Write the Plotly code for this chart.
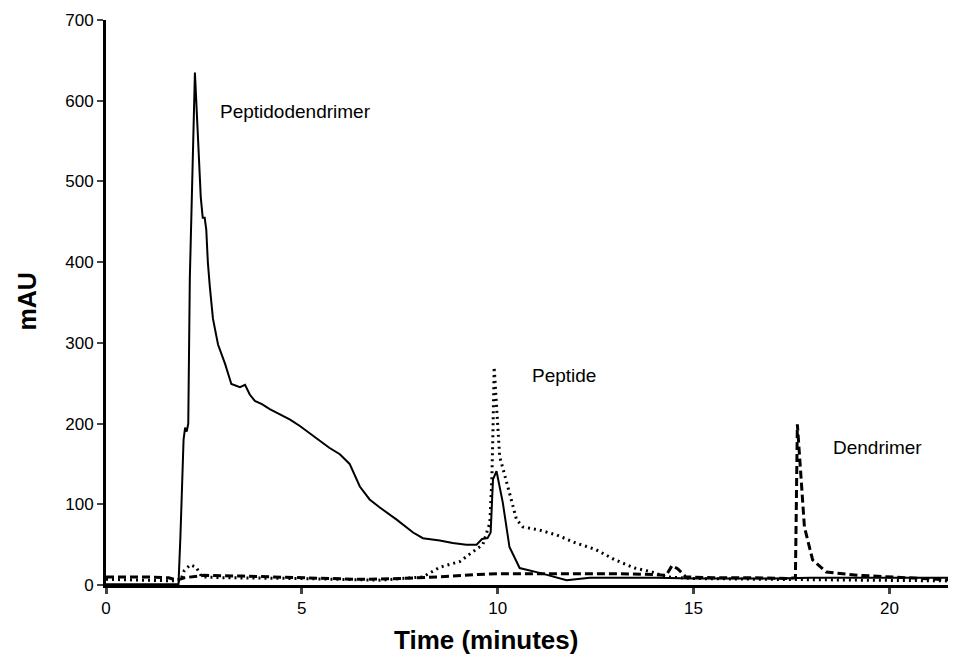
import plotly.graph_objects as go

# Peptidodendrimer (solid)
pd_x = [0, 1.0, 1.85, 1.9, 1.98, 2.02, 2.06, 2.1, 2.14, 2.27, 2.35, 2.42, 2.47, 2.52, 2.56, 2.6, 2.65, 2.73, 2.86,
        3.04, 3.2, 3.42, 3.55, 3.67, 3.8, 3.98, 4.18, 4.44, 4.7, 4.95, 5.2, 5.46, 5.7, 5.97, 6.22, 6.48, 6.73,
        6.99, 7.42, 7.84, 8.09, 8.52, 8.85, 9.2, 9.46, 9.6, 9.74, 9.82, 9.88, 9.97, 10.13, 10.3, 10.56, 11.07,
        11.76, 12.35, 13.2, 14.05, 15.0, 16.0, 17.0, 18.0, 19.0, 20.0, 21.7]
pd_y = [1, 1, 1, 60, 180, 195, 190, 200, 380, 635, 560, 480, 455, 455, 440, 400, 370, 330, 298,
        274, 249, 245, 248, 236, 228, 224, 218, 211, 205, 197, 188, 178, 170, 162, 150, 122, 106,
        96, 81, 65, 58, 55, 52, 50, 50, 57, 58, 65, 131, 141, 102, 47, 21, 15,
        6, 9, 9, 9, 8, 8, 8, 9, 9, 9, 9]

# Peptide (dotted)
pep_x = [0, 1.0, 1.9, 2.0, 2.15, 2.3, 2.45, 3.0, 5.0, 7.0, 8.09, 8.52, 9.03, 9.36, 9.62, 9.8, 9.85, 9.88,
         9.91, 9.96, 10.05, 10.23, 10.48, 10.64, 11.07, 11.5, 12.0, 12.5, 13.0, 13.5, 13.95, 14.3, 15.0,
         17.0, 19.0, 21.7]
pep_y = [7, 6, 5, 18, 25, 22, 10, 9, 8, 6, 10, 22, 29, 41, 50, 77, 131, 193,
         270, 230, 159, 127, 81, 72, 68, 62, 52, 44, 31, 21, 16, 10, 8,
         7, 6, 5]

# Dendrimer (dashed)
den_x = [0, 1.0, 1.6, 1.8, 2.0, 2.5, 3.5, 5.0, 6.5, 7.5, 8.5, 9.5, 10.0, 11.0, 12.0, 13.0, 14.0, 14.3,
         14.45, 14.6, 14.8, 15.5, 16.5, 17.4, 17.6, 17.65, 17.72, 17.83, 18.04, 18.39, 19.2, 20.1, 21.0, 21.7]
den_y = [10, 10, 9, 6, 9, 12, 11, 9, 7, 8, 10, 13, 14, 14, 14, 14, 13, 12,
         24, 20, 10, 9, 9, 8, 9, 199, 150, 72, 31, 16, 12, 10, 8, 6]

labels = ["Peptidodendrimer", "Peptide", "Dendrimer"]
label_x = [2.86, 10.82, 18.52]
label_y = [587, 260, 170]

x_ticks = [0, 5, 10, 15, 20]
y_ticks = [0, 100, 200, 300, 400, 500, 600, 700]

FONT = "Liberation Sans, Arial"

fig = go.Figure()
fig.add_trace(go.Scatter(x=pd_x, y=pd_y, mode="lines", name=labels[0],
                         line=dict(color="black", width=2)))
fig.add_trace(go.Scatter(x=pep_x, y=pep_y, mode="lines", name=labels[1],
                         line=dict(color="black", width=3, dash="2px,4px")))
fig.add_trace(go.Scatter(x=den_x, y=den_y, mode="lines", name=labels[2],
                         line=dict(color="black", width=3, dash="8px,4px")))

for t, xx, yy in zip(labels, label_x, label_y):
    fig.add_annotation(x=xx, y=yy, text=t, showarrow=False, xanchor="left", yanchor="middle",
                       font=dict(family=FONT, size=19, color="black"))

fig.add_annotation(x=0.447, y=-0.097, xref="paper", yref="paper", text="<b>Time (minutes)</b>",
                   showarrow=False, xanchor="center", yanchor="middle",
                   font=dict(family=FONT, size=26, color="black"))
fig.add_annotation(x=-0.0935, y=0.501, xref="paper", yref="paper", text="<b>mAU</b>", textangle=-90,
                   showarrow=False, xanchor="center", yanchor="middle",
                   font=dict(family=FONT, size=25, color="black"))

fig.update_layout(
    width=948, height=654,
    margin=dict(l=98, r=0, t=12, b=77),
    paper_bgcolor="white", plot_bgcolor="white",
    showlegend=False,
    font=dict(family=FONT, size=16, color="black"),
)

fig.update_xaxes(range=[0, 21.7], tickvals=x_ticks, ticks="outside", ticklen=6, tickwidth=3,
                 showline=True, linecolor="black", linewidth=3, showgrid=False, zeroline=False,
                 tickfont=dict(size=17, color="black"))
fig.update_yaxes(range=[0, 700], tickvals=y_ticks, ticks="outside", ticklen=6, tickwidth=2,
                 showline=True, linecolor="black", linewidth=3, showgrid=False, zeroline=False,
                 tickfont=dict(size=17, color="black"))

fig.write_html("out.html")
